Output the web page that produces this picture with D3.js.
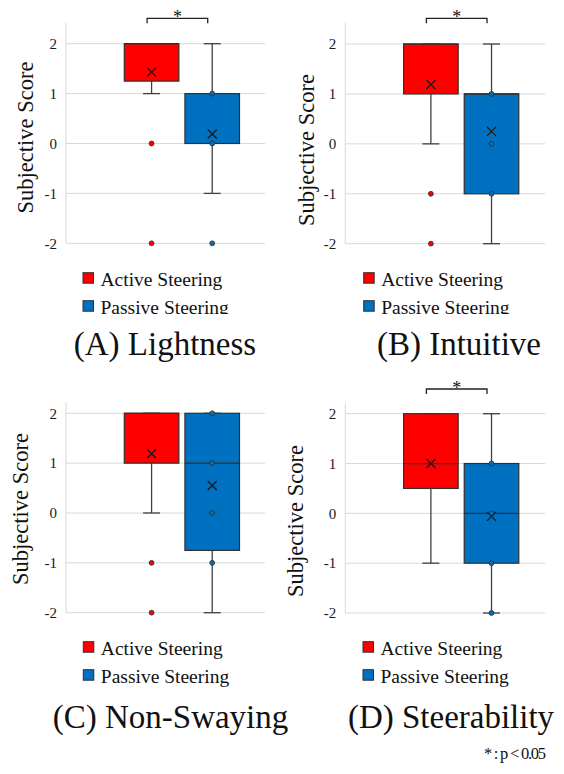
<!DOCTYPE html>
<html>
<head>
<meta charset="utf-8">
<script src="https://cdn.jsdelivr.net/npm/d3@7/dist/d3.min.js"></script>
</head>
<body style="margin:0;background:#fff">
<script>
// Four rating items, each compared between two steering modes
const panelTitles = ["(A) Lightness", "(B) Intuitive", "(C) Non-Swaying", "(D) Steerability"];
const seriesNames = ["Active Steering", "Passive Steering"];
const yTicks = [-2, -1, 0, 1, 2];
const yAxisTitle = "Subjective Score";
const footnote = "* : p < 0.05";

// Box statistics, one entry per panel (A, B, C, D)
const activeLow    = [1, 0, 0, -1];
const activeQ1     = [1.25, 1, 1, 0.5];
const activeMedian = [2, 2, 2, 1];
const activeQ3     = [2, 2, 2, 2];
const activeHigh   = [2, 2, 2, 2];
const activeMean   = [1.43, 1.19, 1.19, 1.0];
const activePoints = [[0, -2], [-1, -2], [-1, -2], []];

const passiveLow    = [-1, -2, -2, -2];
const passiveQ1     = [0, -1, -0.75, -1];
const passiveMedian = [0, 1, 1, 0];
const passiveQ3     = [1, 1, 2, 1];
const passiveHigh   = [2, 2, 2, 2];
const passiveMean   = [0.19, 0.25, 0.55, -0.06];
const passivePoints = [[1, 0, -2], [1, 0, -1], [2, 1, 0, -1], [1, 0, -1, -2]];

const significant = [true, true, false, true];

const colors = { "Active Steering": "#ff0000", "Passive Steering": "#0070c0" };

const FONT = "Liberation Serif";
// every label gets the serif face set on itself
const serif = sel => sel.attr("font-family", FONT).attr("fill", "#111");

// Where each panel sits on the page
const layout = [
  { gx0: 66,    gx1: 265,   yHi: 43.7,  yLo: 243.3, axisTop: 23,    titleYX: 33,    titleYY: 137.5, legX: 83,    legY: 272.7, capX: 165,   capY: 355,   brY: 18.3, clip: true },
  { gx0: 345.3, gx1: 545.3, yHi: 44,    yLo: 243.7, axisTop: 22.7,  titleYX: 313.7, titleYY: 150,   legX: 363.7, legY: 272.7, capX: 459,   capY: 354.5, brY: 18.3, clip: true },
  { gx0: 66,    gx1: 265,   yHi: 413.3, yLo: 612.7, axisTop: 402.7, titleYX: 28,    titleYY: 509,   legX: 83.3,  legY: 641.7, capX: 170.5, capY: 728.3, brY: 389,  clip: false },
  { gx0: 345.3, gx1: 545.3, yHi: 413.7, yLo: 613,   axisTop: 403.3, titleYX: 302.7, titleYY: 521,   legX: 363,   legY: 641.7, capX: 451,   capY: 728.3, brY: 389,  clip: false }
];

const W = 564, H = 774;
const svg = d3.select("body").append("svg").attr("width", W).attr("height", H)
  .style("display", "block");
const defs = svg.append("defs");
defs.append("clipPath").attr("id", "topClip")
  .append("rect").attr("x", 0).attr("y", 0).attr("width", W).attr("height", 314);

const STROKE = "#303030";

panelTitles.forEach((title, i) => {
  const L = layout[i];
  const g = svg.append("g");
  if (L.clip) g.attr("clip-path", "url(#topClip)");

  const y = d3.scaleLinear().domain([-2, 2]).range([L.yLo, L.yHi]);
  const x = d3.scaleBand().domain(seriesNames)
    .range([L.gx0 + 58.3, L.gx0 + 173.5]).paddingInner(0.1).paddingOuter(0);

  // gridlines
  g.append("g").selectAll("line").data(yTicks).join("line")
    .attr("x1", L.gx0).attr("x2", L.gx1)
    .attr("y1", d => y(d)).attr("y2", d => y(d))
    .attr("stroke", "#d9d9d9").attr("stroke-width", 1);
  // vertical axis line
  g.append("line").attr("x1", L.gx0).attr("x2", L.gx0)
    .attr("y1", L.axisTop).attr("y2", y(-2))
    .attr("stroke", "#d9d9d9").attr("stroke-width", 1);

  // tick labels (plain hyphen for negatives)
  const axis = d3.axisLeft(y).tickValues(yTicks).tickFormat(d => String(d)).tickSize(0).tickPadding(9);
  const ax = g.append("g").attr("transform", `translate(${L.gx0},0)`).call(axis);
  ax.attr("font-family", FONT).attr("font-size", 15);
  ax.select(".domain").remove();
  ax.selectAll("text").call(serif).attr("font-size", 15).attr("fill", "#1a1a1a");

  // y axis title
  g.append("text")
    .attr("transform", `translate(${L.titleYX},${L.titleYY}) rotate(-90)`)
    .attr("text-anchor", "middle").attr("font-size", 22.5)
    .call(serif).text(yAxisTitle);

  const stats = [
    { name: seriesNames[0], low: activeLow[i], q1: activeQ1[i], med: activeMedian[i], q3: activeQ3[i], high: activeHigh[i], mean: activeMean[i], pts: activePoints[i] },
    { name: seriesNames[1], low: passiveLow[i], q1: passiveQ1[i], med: passiveMedian[i], q3: passiveQ3[i], high: passiveHigh[i], mean: passiveMean[i], pts: passivePoints[i] }
  ];

  stats.forEach(s => {
    const bx = x(s.name), bw = x.bandwidth(), cx = bx + bw / 2;
    const cap = 8.5;
    const wg = g.append("g").attr("stroke", "#404040").attr("stroke-width", 1.3);
    // whiskers
    wg.append("line").attr("x1", cx).attr("x2", cx).attr("y1", y(s.q3)).attr("y2", y(s.high));
    wg.append("line").attr("x1", cx).attr("x2", cx).attr("y1", y(s.q1)).attr("y2", y(s.low));
    wg.append("line").attr("x1", cx - cap).attr("x2", cx + cap).attr("y1", y(s.high)).attr("y2", y(s.high));
    wg.append("line").attr("x1", cx - cap).attr("x2", cx + cap).attr("y1", y(s.low)).attr("y2", y(s.low));
    // box
    g.append("rect").attr("x", bx).attr("width", bw)
      .attr("y", y(s.q3)).attr("height", y(s.q1) - y(s.q3))
      .attr("fill", colors[s.name]).attr("stroke", STROKE).attr("stroke-width", 1.2);
    // median
    g.append("line").attr("x1", bx).attr("x2", bx + bw)
      .attr("y1", y(s.med)).attr("y2", y(s.med))
      .attr("stroke", STROKE).attr("stroke-width", 1.2);
    // data points
    g.append("g").selectAll("circle").data(s.pts).join("circle")
      .attr("cx", cx).attr("cy", d => y(d)).attr("r", 2.4)
      .attr("fill", colors[s.name]).attr("stroke", STROKE).attr("stroke-width", 0.9);
    // mean marker
    const m = 4.5, my = y(s.mean);
    g.append("path")
      .attr("d", `M${cx - m},${my - m}L${cx + m},${my + m}M${cx - m},${my + m}L${cx + m},${my - m}`)
      .attr("stroke", "#1a1a1a").attr("stroke-width", 1.3).attr("fill", "none");
  });

  // significance bracket
  if (significant[i]) {
    const xa = x(seriesNames[0]) + x.bandwidth() / 2 - 4.5;
    const xb = x(seriesNames[1]) + x.bandwidth() / 2 - 4.5;
    g.append("path")
      .attr("d", `M${xa},${L.brY + 5}V${L.brY}H${xb}V${L.brY + 5}`)
      .attr("fill", "none").attr("stroke", "#222").attr("stroke-width", 1.3);
    g.append("text").attr("x", (xa + xb) / 2).attr("y", L.brY + 4.5)
      .attr("text-anchor", "middle").attr("font-size", 18).call(serif).text("*");
  }

  // legend
  seriesNames.forEach((name, k) => {
    const ly = L.legY + k * 28;
    g.append("rect").attr("x", L.legX).attr("y", ly).attr("width", 10.5).attr("height", 10.5)
      .attr("fill", colors[name]).attr("stroke", STROKE).attr("stroke-width", 1);
    g.append("text").attr("x", L.legX + 17.5).attr("y", ly + 13.3)
      .attr("font-size", 19.5).call(serif).text(name);
  });

  // panel caption
  svg.append("text").attr("x", L.capX).attr("y", L.capY)
    .attr("text-anchor", "middle").attr("font-size", 33).call(serif).text(title);
});

// footnote, set tight like the figure's caption line
svg.append("text").attr("x", 484).attr("y", 759)
  .attr("font-size", 16.5).attr("textLength", 62).attr("lengthAdjust", "spacing")
  .call(serif).text(footnote);
</script>
</body>
</html>
